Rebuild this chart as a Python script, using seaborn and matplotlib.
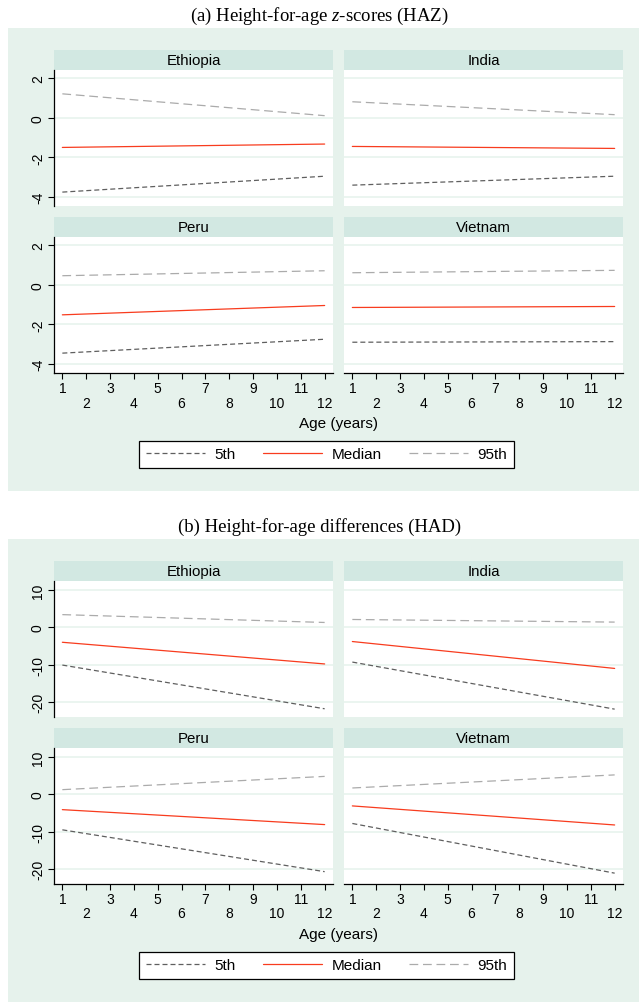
import matplotlib
matplotlib.use("Agg")
import matplotlib.pyplot as plt
from matplotlib.patches import Rectangle
from matplotlib.lines import Line2D
import pandas as pd
import seaborn as sns

# Daten (Anfangs- und Endwert je Linie)
countries = ["Ethiopia", "India", "Peru", "Vietnam"]
ages = [1, 12]
age_ticks = list(range(1, 13))
percentiles = ["5th", "Median", "95th"]

haz_p5 = [[-3.75, -2.95], [-3.40, -2.95], [-3.45, -2.75], [-2.90, -2.87]]
haz_med = [[-1.50, -1.33], [-1.45, -1.55], [-1.52, -1.05], [-1.15, -1.10]]
haz_p95 = [[1.20, 0.10], [0.80, 0.15], [0.45, 0.70], [0.60, 0.72]]
haz_ticks = [-4, -2, 0, 2]

had_p5 = [[-10.1, -21.8], [-9.3, -21.9], [-9.5, -20.7], [-7.8, -21.1]]
had_med = [[-4.0, -9.8], [-3.8, -11.0], [-4.1, -8.1], [-3.1, -8.2]]
had_p95 = [[3.4, 1.3], [2.1, 1.4], [1.25, 4.8], [1.7, 5.2]]
had_ticks = [-20, -10, 0, 10]

colors = {"5th": "#5f5f5f", "Median": "#f83c1e", "95th": "#ababab"}
dashes = {"5th": (4, 2.4), "Median": "", "95th": (7, 3.8)}

mint = "#e6f2ec"
strip = "#d2e8e2"


def make_df(p5, med, p95):
    rows = []
    for i, c in enumerate(countries):
        for name, vals in zip(percentiles, [p5[i], med[i], p95[i]]):
            for a, v in zip(ages, vals):
                rows.append({"country": c, "age": a, "pct": name, "value": v})
    return pd.DataFrame(rows)


sns.set_theme(style="white")
plt.rcParams["font.family"] = ["Liberation Sans", "DejaVu Sans"]
plt.rcParams["text.color"] = "black"
plt.rcParams["xtick.color"] = "black"
plt.rcParams["ytick.color"] = "black"
plt.rcParams["axes.unicode_minus"] = False
plt.rcParams["mathtext.fontset"] = "custom"
plt.rcParams["mathtext.it"] = "Liberation Serif:italic"
plt.rcParams["mathtext.rm"] = "Liberation Serif"

W, H = 639, 1003
fig = plt.figure(figsize=(W / 100, H / 100), dpi=100)
fig.patch.set_facecolor("white")


def px_axes(x0, y0, x1, y1):
    return fig.add_axes([x0 / W, 1 - y1 / H, (x1 - x0) / W, (y1 - y0) / H])


def draw_panel(df, top, ylim, yticks, title, bg):
    # Hintergrund
    fig.patches.append(Rectangle((8 / W, 1 - bg[1] / H), 1 - 8 / W, (bg[1] - bg[0]) / H,
                                 transform=fig.transFigure, facecolor=mint,
                                 edgecolor="none", zorder=-5))
    fig.text(0.5, 1 - (top - 55) / H, title, ha="center", va="center",
             fontsize=13.5, family="Liberation Serif")
    rows_y = [top, top + 167]
    cols_x = [(54, 333), (344, 623)]
    for k, c in enumerate(countries):
        r, col = divmod(k, 2)
        x0, x1 = cols_x[col]
        y0 = rows_y[r]
        ax = px_axes(x0, y0, x1, y0 + 136)
        ax.set_facecolor("white")
        sns.lineplot(data=df[df["country"] == c], x="age", y="value", hue="pct",
                     style="pct", palette=colors, dashes=dashes, legend=False,
                     linewidth=0.9, ax=ax, zorder=3)
        ax.set_xlim(0.65, 12.35)
        ax.set_ylim(*ylim)
        ax.set_yticks(yticks)
        for t in yticks:
            ax.axhline(t, color="#e8f3ee", lw=1.2, zorder=1)
        ax.set_xlabel("")
        ax.set_ylabel("")
        for s in ["top", "right"]:
            ax.spines[s].set_visible(False)
        ax.spines["left"].set_visible(col == 0)
        ax.spines["bottom"].set_visible(r == 1)
        for s in ["left", "bottom"]:
            ax.spines[s].set_color("black")
            ax.spines[s].set_linewidth(0.9)
        if col == 0:
            ax.tick_params(axis="y", left=True, length=4, width=0.8, color="black",
                           labelsize=10, pad=2.5)
            for lab in ax.get_yticklabels():
                lab.set_rotation(90)
                lab.set_va("center")
        else:
            ax.tick_params(axis="y", left=False, labelleft=False)
        if r == 1:
            ax.set_xticks(age_ticks[0::2])
            ax.set_xticks(age_ticks[1::2], minor=True)
            ax.set_xticklabels([str(a) for a in age_ticks[0::2]])
            ax.set_xticklabels([str(a) for a in age_ticks[1::2]], minor=True)
            ax.tick_params(axis="x", which="both", bottom=True, length=4, width=0.8,
                           color="black", labelsize=10)
            ax.tick_params(axis="x", which="major", pad=1.5)
            ax.tick_params(axis="x", which="minor", pad=12.2)
        else:
            ax.tick_params(axis="x", bottom=False, labelbottom=False)
        # Streifen mit Landesname
        ax.add_patch(Rectangle((0, 1), 1, 20 / 136, transform=ax.transAxes,
                               facecolor=strip, edgecolor="none", clip_on=False))
        ax.text(0.5, 1 + 10 / 136, c, transform=ax.transAxes, ha="center",
                va="center", fontsize=10.8)
    fig.text(338.5 / W, 1 - (top + 353) / H, "Age (years)", ha="center",
             va="center", fontsize=11)
    handles = [Line2D([], [], color=colors[p], lw=0.9,
                      dashes=dashes[p] if dashes[p] else (None, None))
               for p in percentiles]
    leg = fig.legend(handles, percentiles, loc="center", ncol=3,
                     bbox_to_anchor=(326.5 / W, 1 - (top + 384.5) / H),
                     frameon=True, fancybox=False, fontsize=11, handlelength=3.86,
                     columnspacing=1.8, handletextpad=0.6, borderpad=0.45)
    leg.get_frame().set_edgecolor("black")
    leg.get_frame().set_facecolor("white")
    leg.get_frame().set_alpha(1)
    leg.get_frame().set_linewidth(0.9)


df_haz = make_df(haz_p5, haz_med, haz_p95)
df_had = make_df(had_p5, had_med, had_p95)

draw_panel(df_haz, 71, (-4.45, 2.4), haz_ticks,
           "(a) Height-for-age $z$-scores (HAZ)", (29, 492))
draw_panel(df_had, 582, (-24, 12.4), had_ticks,
           "(b) Height-for-age differences (HAD)", (540, 1003))

fig.savefig("out.png", dpi=100)
